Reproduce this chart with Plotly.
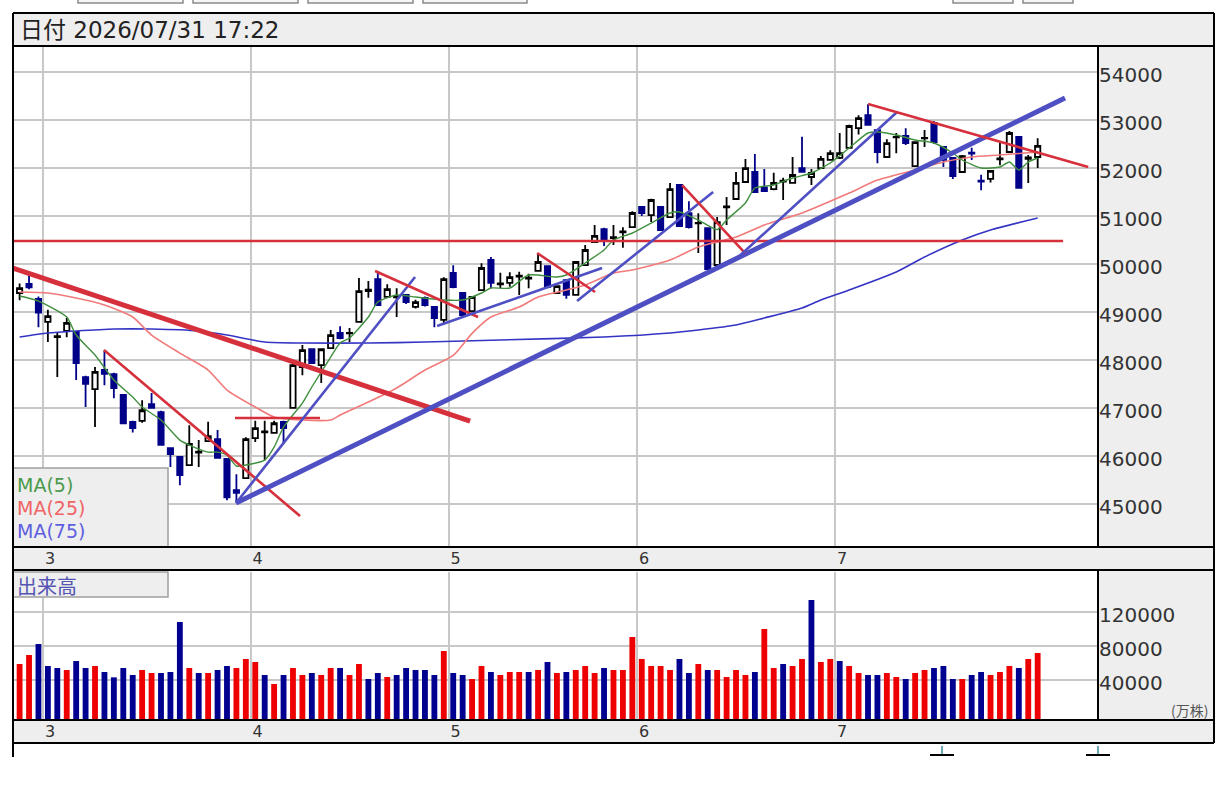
import plotly.graph_objects as go

W, H = 1228, 787

# ---------------- data ----------------
title_text = "日付 2026/07/31 17:22"
month_labels = ["3", "4", "5", "6", "7"]
month_start = [3, 25, 46, 66, 87]          # index of first trading day of each month

opens = [49400, 49590, 49280, 48800, 48480, 48610, 48590, 47650, 47400, 47800,
         47710, 47280, 46720, 46740, 47090, 46920, 46170, 45990, 45820, 46080,
         46320, 46360, 45950, 45300, 45550, 46380, 46500, 46490, 46720, 47010,
         47860, 48230, 47900, 48255, 48570, 48560, 48800, 49440, 49690, 49320,
         49310, 49360, 49110, 49300, 49110, 48840, 49820, 49400, 49025, 49460,
         50090, 49580, 49610, 49740, 49700, 49860, 49960, 49400, 49670, 49360,
         49980, 50460, 50730, 50540, 50660, 50773, 51190, 51020, 51190, 50980,
         51650, 51060, 50850, 50750, 49983, 51180, 51356, 51710, 51920, 51600,
         51560, 51720, 51690, 52000, 51814, 52000, 52170, 52210, 52420, 52830,
         53100, 52790, 52230, 52640, 52670, 52040, 52620, 52940, 52440, 52210,
         51918, 52320, 51740, 51773, 52180, 52334, 52650, 52190, 52230]
highs = [49600, 49770, 49330, 49050, 48590, 48880, 48600, 47680, 47860, 48210,
         47740, 47300, 46740, 47170, 47320, 46950, 46190, 46000, 46650, 46340,
         46720, 46550, 45960, 45630, 46400, 46740, 46740, 46740, 46740, 47950,
         48320, 48250, 48250, 48630, 48710, 48670, 49710, 49650, 49860, 49580,
         49500, 49380, 49260, 49330, 49130, 49730, 49980, 49420, 49330, 50020,
         50150, 49820, 49830, 49840, 49800, 50230, 49980, 49560, 49690, 50060,
         50400, 50815, 50760, 50815, 50770, 51100, 51200, 51360, 51200, 51690,
         51660, 51310, 51060, 50770, 50980, 51400, 51920, 52190, 52290, 51980,
         51900, 51800, 52230, 52650, 51980, 52250, 52370, 52730, 52900, 53100,
         53330, 52800, 52600, 52730, 52830, 52560, 52790, 52980, 52460, 52230,
         52270, 52420, 51860, 51960, 52520, 52770, 52660, 52270, 52620]
lows = [49250, 49480, 48690, 48380, 47650, 48480, 47590, 47030, 46610, 47480,
        47210, 46690, 46500, 46700, 46990, 46230, 45780, 45400, 45800, 45780,
        46300, 45950, 45090, 45030, 45530, 46300, 45920, 46480, 46280, 47000,
        47690, 47930, 47530, 48240, 48440, 48380, 48790, 49300, 49140, 49300,
        48900, 49170, 49080, 49120, 48690, 48740, 49500, 48900, 49000, 49440,
        49500, 49500, 49530, 49360, 49500, 49840, 49500, 49380, 49280, 49350,
        49960, 50440, 50380, 50400, 50340, 50760, 51000, 50880, 50700, 50960,
        50780, 50740, 50230, 49880, 49950, 50815, 51340, 51700, 51480, 51500,
        51540, 51335, 51680, 51900, 51650, 51980, 52150, 52190, 52400, 52700,
        52880, 52100, 52220, 52310, 52480, 52030, 52440, 52500, 52020, 51770,
        51900, 52170, 51540, 51700, 52060, 52320, 51580, 51690, 52000]
closes = [49500, 49520, 48990, 48920, 48500, 48780, 47940, 47510, 47760, 47720,
          47420, 46690, 46590, 46960, 47010, 46240, 46050, 45610, 46260, 46100,
          46420, 45970, 45150, 45240, 46360, 46590, 46520, 46690, 46590, 47900,
          48210, 47940, 48230, 48525, 48460, 48570, 49440, 49470, 49150, 49480,
          49330, 49210, 49210, 49150, 48880, 49690, 49525, 48940, 49317, 49920,
          49610, 49600, 49730, 49760, 49720, 50045, 49525, 49545, 49360, 50045,
          50295, 50590, 50500, 50560, 50680, 51065, 51065, 51335, 50710, 51560,
          50790, 50770, 50860, 49900, 50877, 51200, 51690, 52000, 51500, 51520,
          51690, 51740, 51856, 51920, 51897, 52190, 52310, 52310, 52875, 53040,
          52900, 52330, 52520, 52650, 52520, 52540, 52630, 52540, 52170, 51835,
          52250, 52300, 51720, 51940, 52200, 52730, 51590, 52220, 52460]

volume = [58800, 69400, 82350, 56470, 54100, 51765, 62350, 54100, 56470, 49400,
          43140, 54100, 45900, 51765, 48240, 48240, 49400, 108240, 54100, 48240,
          48240, 51765, 56470, 54100, 64700, 61180, 45900, 35300, 45900, 54100,
          45900, 48240, 45900, 54100, 54100, 45900, 58800, 41180, 48240, 43530,
          45900, 54100, 51765, 51765, 45900, 74100, 48240, 45900, 41180, 56470,
          49400, 45900, 49400, 49400, 49400, 51765, 61180, 48240, 49400, 51765,
          56470, 48240, 54100, 51765, 51765, 90590, 64700, 56470, 56470, 51765,
          64700, 48240, 58800, 51765, 51765, 43530, 51765, 45900, 49400, 100000,
          54100, 58800, 56470, 64700, 134100, 61180, 64700, 62350, 56470, 48240,
          45900, 45900, 48240, 43530, 41180, 48240, 51765, 54100, 56470, 41180,
          41180, 45900, 49400, 45900, 49400, 56470, 54100, 64700, 71760]
# 1 = red bar, 0 = blue bar
vol_red = [1, 1, 0, 0, 0, 1, 0, 0, 1, 0,
           0, 0, 0, 1, 1, 0, 0, 0, 1, 0,
           1, 0, 0, 1, 1, 1, 0, 1, 0, 1,
           1, 0, 1, 1, 0, 1, 1, 0, 0, 1,
           0, 0, 0, 0, 0, 1, 0, 0, 1, 1,
           0, 1, 1, 1, 0, 1, 0, 1, 0, 1,
           1, 1, 0, 1, 1, 1, 1, 1, 1, 1,
           0, 0, 1, 0, 1, 1, 1, 1, 0, 1,
           1, 0, 1, 1, 0, 1, 1, 0, 1, 1,
           0, 0, 1, 1, 0, 1, 1, 0, 0, 0,
           1, 0, 0, 1, 1, 1, 0, 1, 1]

ma5_idx = [0, 2, 5, 6, 8, 10, 12, 13, 15, 17, 18, 20, 21, 22, 23, 24, 26, 27, 28, 30,
           31, 33, 34, 35, 37, 38, 40, 42, 45, 47, 49, 50, 52, 54, 57, 58, 60, 62, 63, 65,
           67, 69, 70, 72, 74, 75, 77, 78, 80, 82, 84, 86, 88, 90, 91, 93, 95, 97, 99, 100,
           102, 104, 105, 106, 107, 108]
ma5_val = [49337, 49233, 48900, 48526, 48110, 47590, 47236, 47027, 46757, 46340, 46237, 46090,
           46090, 46028, 45800, 45820, 45924, 46195, 46611, 47110, 47444, 48068, 48359, 48463,
           48900, 49213, 49358, 49316, 49254, 49254, 49400, 49504, 49504, 49775, 49733, 49775,
           50024, 50295, 50503, 50649, 50856, 51065, 51086, 50919, 50720, 50919, 51273, 51585,
           51647, 51793, 51897, 52105, 52417, 52730, 52750, 52688, 52584, 52521, 52313, 52168,
           52001, 52022, 52126, 51960, 52126, 52209]
ma25_idx = [0, 3, 6, 9, 12, 14, 17, 20, 22, 25, 27, 30, 33, 34, 37, 40, 43, 46, 48, 50,
            53, 55, 58, 60, 63, 65, 69, 72, 76, 79, 83, 88, 91, 95, 98, 101, 104, 108]
ma25_val = [49420, 49400, 49296, 49150, 48900, 48525, 48150, 47797, 47381, 47027, 46819,
            46757, 46757, 46861, 47131, 47423, 47797, 48100, 48560, 48900, 49108, 49316,
            49462, 49566, 49816, 49879, 50086, 50357, 50565, 50815, 51065, 51480, 51750,
            51960, 52126, 52230, 52272, 52334]
ma75_idx = [0, 3, 6, 10, 14, 19, 22, 26, 30, 37, 43, 51, 62, 69, 72, 76, 79, 83, 85, 88,
            93, 96, 100, 103, 108]
ma75_val = [48484, 48567, 48609, 48650, 48650, 48609, 48525, 48380, 48359, 48359, 48380,
            48422, 48484, 48567, 48630, 48734, 48880, 49088, 49254, 49462, 49837, 50149,
            50503, 50711, 50960]

# hand-drawn trend lines: start/end (bar index, price)
trend_x0 = [-0.7, -0.7, 22.85, 8.95, 22.96, 22.96, 37.71, 44.29, 54.90, 59.14, 70.28, 75.90, 90.01]
trend_y0 = [49920, 50482, 46799, 48214, 45030, 45030, 49858, 48713, 50232, 49233, 51647, 50087, 53333]
trend_x1 = [47.79, 110.7, 31.87, 29.75, 110.9, 41.95, 48.64, 61.79, 61.05, 73.57, 76.96, 93.09, 113.36]
trend_y1 = [46736, 50482, 46799, 44759, 53458, 49733, 48900, 49920, 49421, 51502, 50232, 53166, 52022]
trend_kind = ["red", "red", "red", "red", "blue", "blue", "red", "blue", "red", "blue", "red", "blue", "red"]
trend_bold = [True, False, False, False, True, False, False, False, False, False, False, False, False]

price_ticks = [45000, 46000, 47000, 48000, 49000, 50000, 51000, 52000, 53000, 54000]
vol_ticks = [40000, 80000, 120000]

# ---------------- styling helpers ----------------
FONT = "DejaVu Sans, Noto Sans CJK JP, sans-serif"
CJK = "Noto Sans CJK JP, DejaVu Sans, sans-serif"
GREY = "#eeeeee"
GRID = "#c8c8c8"
RED_T = "#d6303c"
BLUE_T = "#4f4fc4"


def px(x):
    return x / W


def py(y):
    return 1 - y / H


def rect(x0, y0, x1, y1, fill, line=None, width=0, layer="below"):
    return dict(type="rect", xref="paper", yref="paper", x0=px(x0), x1=px(x1),
                y0=py(y1), y1=py(y0), fillcolor=fill,
                line=dict(color=line or fill, width=width), layer=layer)


def seg(x0, y0, x1, y1, color="black", width=2):
    return dict(type="line", xref="paper", yref="paper", x0=px(x0), x1=px(x1),
                y0=py(y0), y1=py(y1), line=dict(color=color, width=width), layer="above")


n = len(closes)
idx = list(range(n))

fig = go.Figure()

fig.add_trace(go.Candlestick(
    x=idx, open=opens, high=highs, low=lows, close=closes,
    increasing=dict(line=dict(color="black", width=1.8), fillcolor="white"),
    decreasing=dict(line=dict(color="#000088", width=1.8), fillcolor="#000088"),
    whiskerwidth=0, showlegend=False, xaxis="x", yaxis="y", hoverinfo="x+y"))

for xs, ys, col, w in [(ma75_idx, ma75_val, "#3434c4", 1.6),
                       (ma25_idx, ma25_val, "#f27a7a", 1.6),
                       (ma5_idx, ma5_val, "#3f8f3f", 1.4)]:
    fig.add_trace(go.Scatter(x=xs, y=ys, mode="lines",
                             line=dict(color=col, width=w, shape="spline", smoothing=0.6),
                             showlegend=False, xaxis="x", yaxis="y", hoverinfo="skip"))

for i in range(len(trend_x0)):
    col = RED_T if trend_kind[i] == "red" else BLUE_T
    w = 5 if trend_bold[i] else 2.6
    fig.add_trace(go.Scatter(x=[trend_x0[i], trend_x1[i]], y=[trend_y0[i], trend_y1[i]], mode="lines",
                             line=dict(color=col, width=w), showlegend=False,
                             xaxis="x", yaxis="y", hoverinfo="skip"))

VOL_MIN, VOL_MAX = -7060, 167060
fig.add_trace(go.Bar(
    x=idx, y=[v - VOL_MIN for v in volume], base=VOL_MIN,
    marker=dict(color=["#ee0000" if r else "#000090" for r in vol_red], line=dict(width=0)),
    width=0.62, showlegend=False, xaxis="x2", yaxis="y2", hoverinfo="skip"))

# ---------------- axes ----------------
x_left = -0.70
x_right = 114.4
grid_x = [m - 0.5 for m in month_start]

common_x = dict(range=[x_left, x_right], showgrid=True, gridcolor=GRID, gridwidth=2,
                tickmode="array", tickvals=grid_x, ticktext=month_labels, ticks="",
                showline=False, zeroline=False, fixedrange=True,
                ticklabelshift=7, tickfont=dict(family=FONT, size=16, color="#333333"),
                rangeslider=dict(visible=False))

fig.update_layout(
    width=W, height=H, autosize=False,
    margin=dict(l=0, r=0, t=0, b=0, pad=0),
    paper_bgcolor="white", plot_bgcolor="white",
    boxgap=0.2, bargap=0.35,
    xaxis=dict(domain=[px(13), px(1098)], anchor="y", **common_x),
    yaxis=dict(domain=[py(547), py(47)], range=[44115, 54519], side="right",
               tickmode="array", tickvals=price_ticks, ticktext=[str(v) for v in price_ticks],
               ticks="", showgrid=True, ticklabelshift=3,
               gridcolor=GRID, gridwidth=2, zeroline=False, showline=False,
               tickfont=dict(family=FONT, size=20, color="#333333"), fixedrange=True),
    xaxis2=dict(domain=[px(13), px(1098)], anchor="y2", **common_x),
    yaxis2=dict(domain=[py(720), py(572)], range=[VOL_MIN, VOL_MAX], side="right",
                tickmode="array", tickvals=vol_ticks, ticktext=[str(v) for v in vol_ticks],
                ticks="", showgrid=True, ticklabelshift=3,
                gridcolor=GRID, gridwidth=2, zeroline=False, showline=False,
                tickfont=dict(family=FONT, size=20, color="#333333"), fixedrange=True),
    showlegend=False,
)

shapes = []
# grey panels
shapes.append(rect(13, 13, 1214, 46, GREY))
shapes.append(rect(1098, 46, 1214, 547, GREY))
shapes.append(rect(13, 547, 1214, 570, GREY))
shapes.append(rect(1098, 570, 1214, 720, GREY))
shapes.append(rect(13, 720, 1214, 743, GREY))
# legend boxes
shapes.append(rect(13, 468, 168, 547, GREY, "#a0a0a0", 1.5, layer="above"))
shapes.append(rect(13, 572, 168, 597, GREY, "#a0a0a0", 1.5, layer="above"))
# frame lines
for y in (13, 46, 547, 570, 720, 743):
    shapes.append(seg(13, y, 1214, y))
shapes.append(seg(13, 13, 13, 757))
shapes.append(seg(1214, 13, 1214, 743))
shapes.append(seg(1098, 46, 1098, 547))
shapes.append(seg(1098, 570, 1098, 720))
# small markers below the chart
for cx in (942, 1098):
    shapes.append(seg(cx, 746, cx, 755, "#3a8a9a", 1.5))
    shapes.append(seg(cx - 12, 755, cx + 12, 755, "black", 2))
# toolbar buttons cut off at top
for bx0, bx1 in [(78, 183), (193, 298), (308, 413), (423, 527), (953, 1013), (1023, 1073)]:
    shapes.append(dict(type="rect", xref="paper", yref="paper", x0=px(bx0), x1=px(bx1),
                       y0=py(3), y1=py(-12), fillcolor="#f6f6f6",
                       line=dict(color="#8a8a8a", width=1.5), layer="above"))
fig.update_layout(shapes=shapes)

ann = []
ann.append(dict(text=title_text, x=px(18), y=py(30), xref="paper", yref="paper",
                xanchor="left", yanchor="middle", showarrow=False,
                font=dict(family=FONT, size=23, color="#222222")))
for t, yy, col in [("MA(5)", 485, "#4b9a4b"), ("MA(25)", 508, "#f06464"), ("MA(75)", 531, "#5f5fe0")]:
    ann.append(dict(text=t, x=px(15), y=py(yy), xref="paper", yref="paper",
                    xanchor="left", yanchor="middle", showarrow=False,
                    font=dict(family=FONT, size=19, color=col)))
ann.append(dict(text="出来高", x=px(15), y=py(585), xref="paper", yref="paper",
                xanchor="left", yanchor="middle", showarrow=False,
                font=dict(family=CJK, size=20, color="#5454b4")))
ann.append(dict(text="(万株)", x=px(1210), y=py(710), xref="paper", yref="paper",
                xanchor="right", yanchor="middle", showarrow=False,
                font=dict(family=CJK, size=14, color="#555555")))
fig.update_layout(annotations=ann)

fig.write_html("out.html", config={"displayModeBar": False, "staticPlot": True},
               post_script="document.body.style.margin='0';document.body.style.padding='0';")
